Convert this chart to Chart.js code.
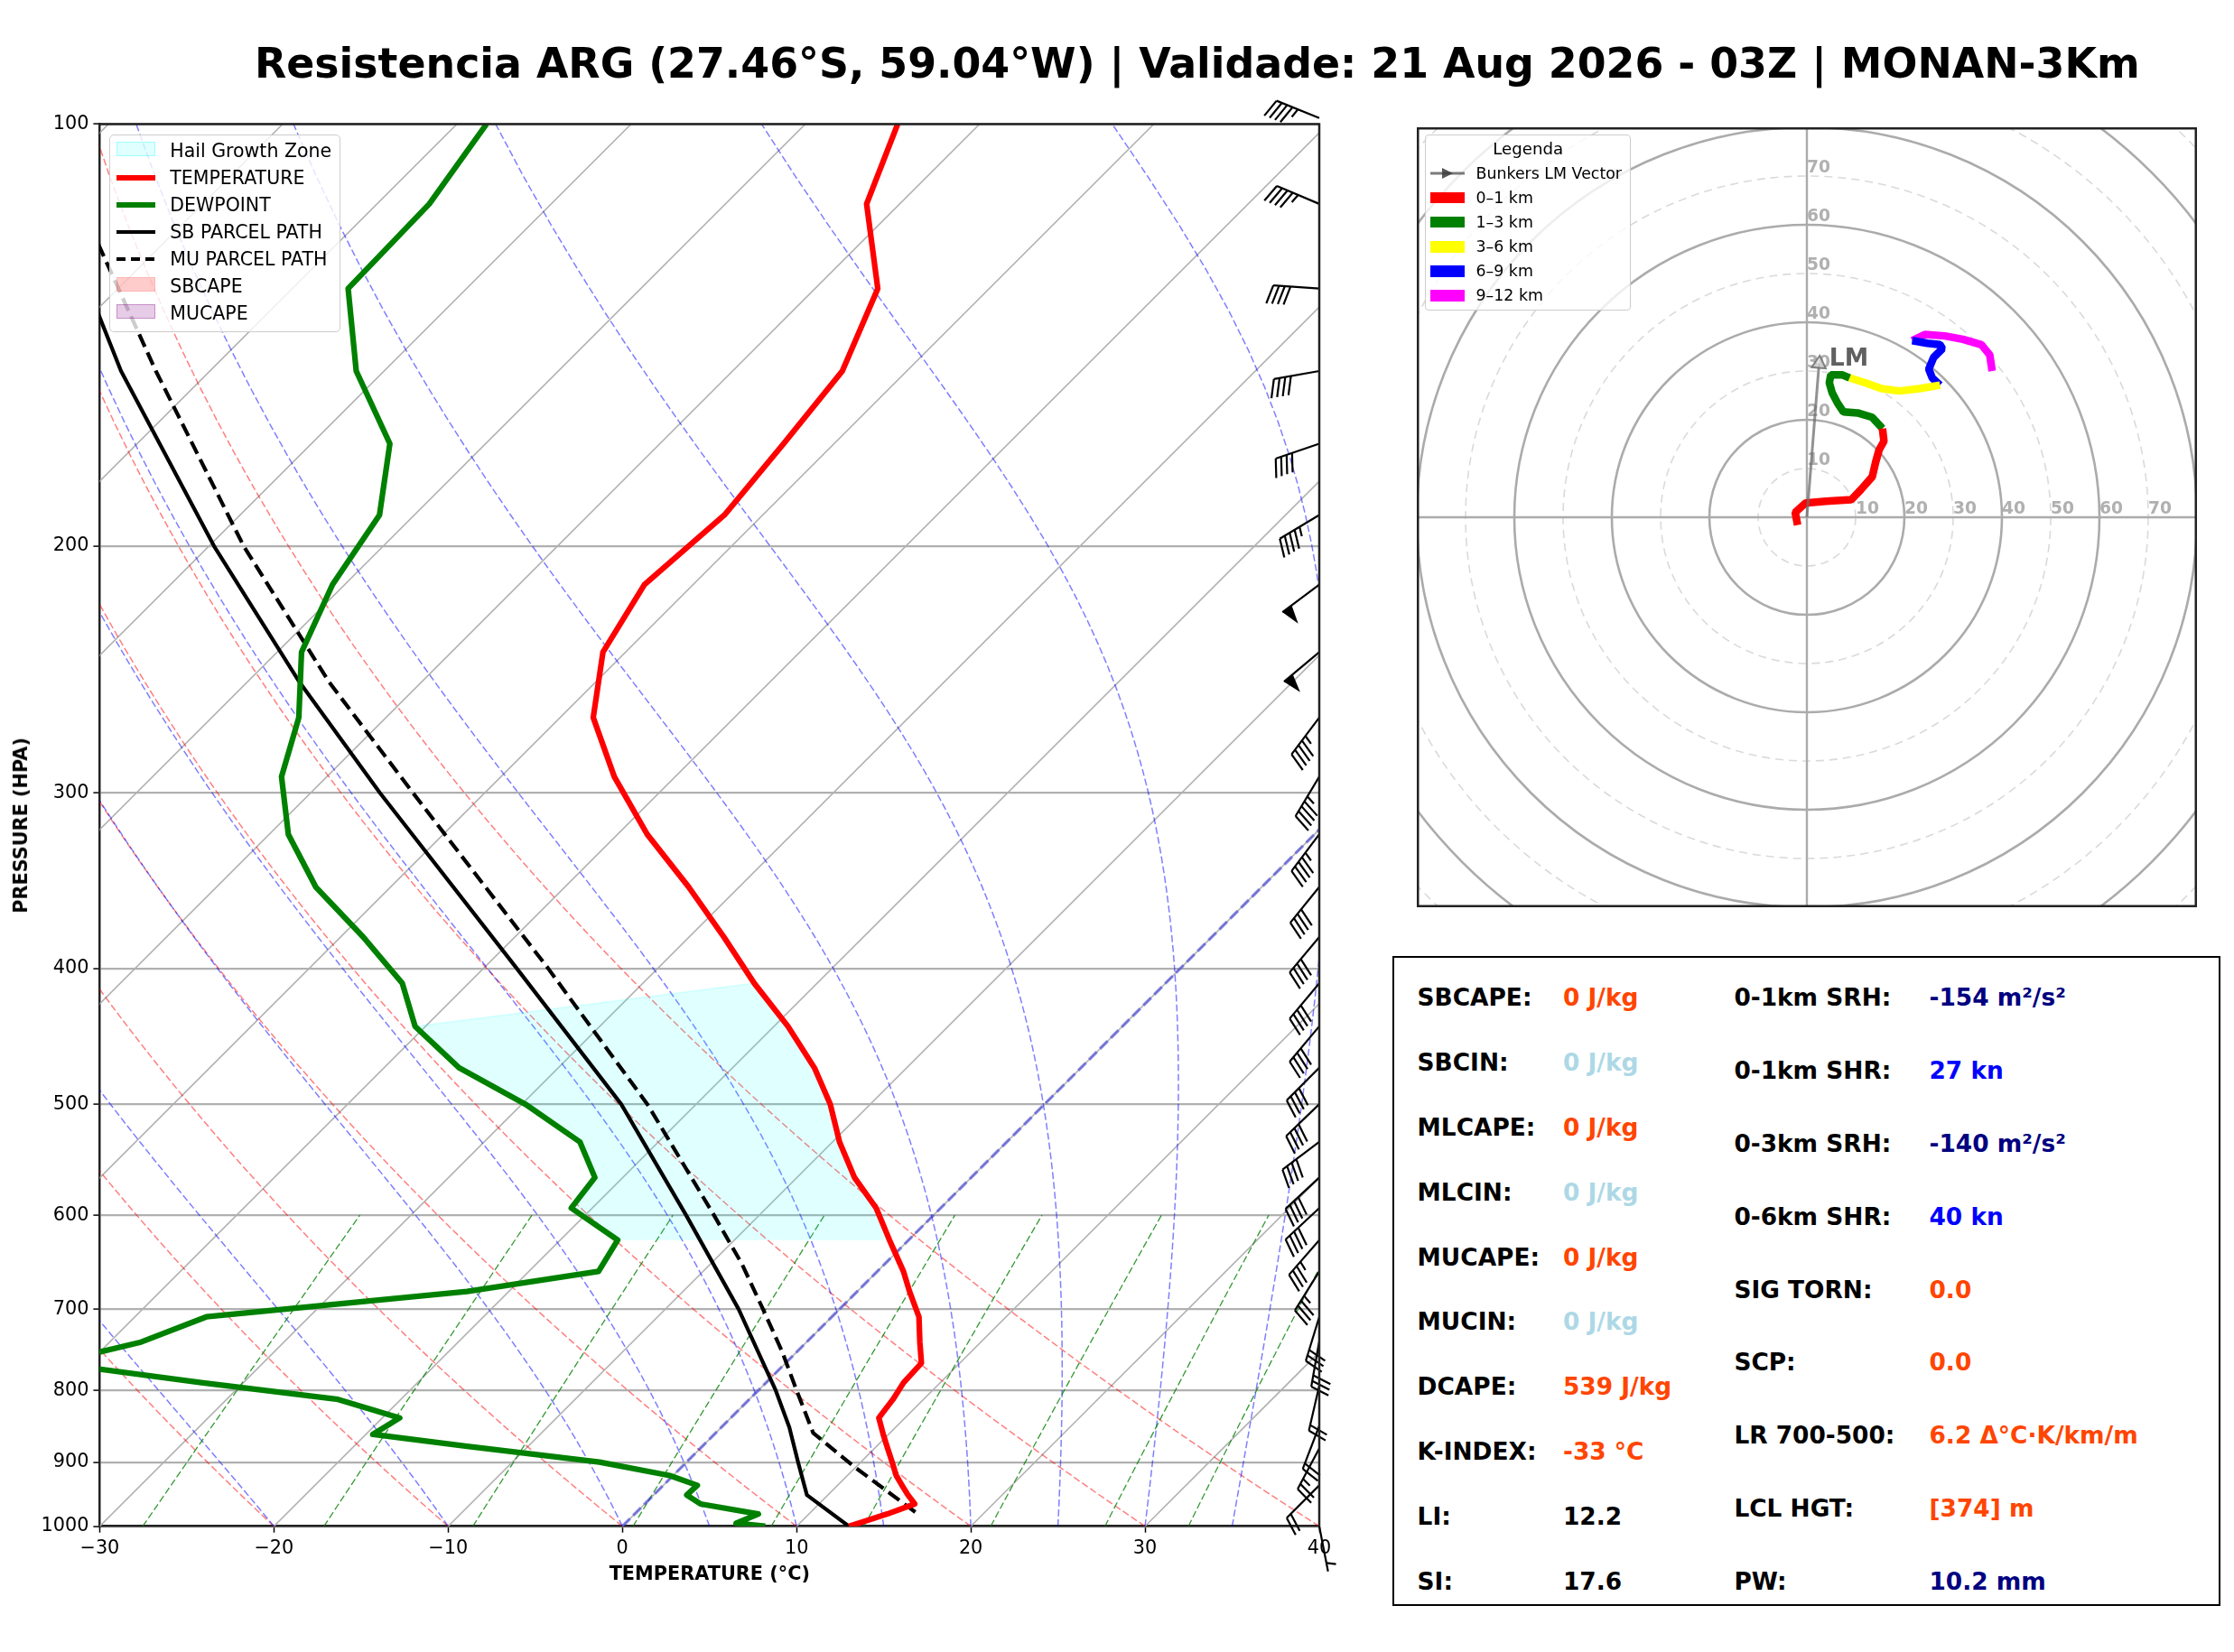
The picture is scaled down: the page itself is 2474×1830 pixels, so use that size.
<!DOCTYPE html>
<html lang="pt">
<head>
<meta charset="utf-8">
<title>Skew-T Resistencia</title>
<script src="https://cdn.jsdelivr.net/npm/chart.js@4.4.1/dist/chart.umd.min.js"></script>
<style>
  html, body { margin: 0; padding: 0; background: #fff; }
  body { position: relative; width: 2474px; height: 1830px; overflow: hidden; font-family: 'DejaVu Sans', sans-serif; color: #000; }
  canvas { position: absolute; }
  .abs { position: absolute; white-space: nowrap; line-height: 1; }
  .caixa { position: absolute; background: rgba(255,255,255,0.8); border: 1.5px solid #cccccc; border-radius: 5px; box-sizing: border-box; }
  .sw { position: absolute; box-sizing: border-box; }
</style>
</head>
<body>
<canvas id="skewt" width="1540" height="1830" style="left:0;top:0"></canvas>
<canvas id="hodo" width="864" height="864" style="left:1569px;top:141px"></canvas>
<div id="titulo" class="abs" style="font-weight:bold">Resistencia ARG (27.46°S, 59.04°W) | Validade: 21 Aug 2026 - 03Z | MONAN-3Km</div>
<div id="xTitulo" class="abs" style="font-weight:bold;font-size:20.8px">TEMPERATURE (°C)</div>
<div id="yTitulo" class="abs" style="font-weight:bold;font-size:20.8px">PRESSURE (HPA)</div>
<div class="caixa" style="left:120.7px;top:149.3px;width:256.6px;height:219px"></div>
<div class="caixa" style="left:1578.4px;top:149px;width:227.3px;height:194.8px;border-radius:4px"></div>
<div class="abs" style="left:1542px;top:1059px;width:917px;height:720px;border:2.5px solid #000;box-sizing:border-box"></div>
<script>
// Perfil vertical (hPa, °C)
const pres = [1000, 995, 980, 964, 950, 935, 920, 900, 877, 860, 837, 812, 790, 765, 739, 709, 680, 658, 625, 593,
              564, 532, 500, 471, 440, 410, 380, 350, 321, 292, 265, 238, 213, 190, 169, 150, 131, 114, 100];
const temp = [13.0, 13.4, 14.5, 15.5, 14.6, 13.7, 12.8, 11.8, 10.6, 9.7, 8.5, 8.25, 7.9, 7.8, 6.5, 5.0, 3.0, 1.5, -1.1, -3.7,
              -6.7, -9.6, -12.3, -15.3, -19.2, -23.6, -28.0, -32.9, -38.3, -43.5, -48.1, -51.3, -52.8, -52.2, -52.9, -53.7, -56.4, -61.9, -64.7];
const dewp = [8.2, 6.35, 7.1, 3.2, 1.9, 1.95, -0.2, -5.0, -13.5, -19.6, -19.0, -23.6, -32.4, -42.0, -38.2, -35.9, -22.4, -16.0, -16.7, -21.2,
              -21.6, -24.5, -29.8, -35.7, -40.6, -43.8, -48.7, -54.3, -58.9, -62.6, -65.0, -68.6, -70.7, -72.0, -75.5, -81.6, -86.8, -87.0, -88.3];

// Trayectorias de parcela
const sbPres = [1000, 950, 900, 850, 800, 700, 600, 500, 400, 300, 250, 200, 150, 120];
const sbTemp = [13.0, 8.8, 6.4, 3.9, 1.0, -5.8, -14.2, -24.3, -38.1, -56.0, -67.0, -79.7, -95.1, -106.0];
const muPres = [977, 907, 858, 800, 750, 700, 650, 600, 500, 400, 300, 250, 200, 150, 122, 110];
const muTemp = [16.0, 9.9, 5.6, 2.2, -0.9, -4.4, -8.2, -12.6, -22.8, -36.3, -54.1, -65.3, -78.0, -93.1, -103.6, -108.0];

// Zona de crecimiento de granizo (límites en hPa)
const hgzBottom = 625, hgzTopTemp = 410, hgzTopDew = 440;

// Barbas de viento (dirección de origen en grados, nudos)
const barbPres = [99, 114, 131, 150, 169, 190, 213, 238, 265, 292, 321, 350, 380, 410, 440, 471, 500, 532, 564, 593,
                  625, 658, 709, 738, 794, 848, 880, 935, 1000];
const barbDir = [292, 293, 274, 260, 251, 239, 233, 230, 217, 211, 217, 219, 220, 220, 220, 225, 226, 233, 227, 227,
                 221, 212, 197, 190, 193, 201, 208, 225, 169];
const barbSpd = [45, 45, 40, 40, 40, 45, 50, 50, 45, 45, 45, 40, 40, 40, 40, 40, 40, 40, 40, 40,
                 35, 35, 30, 30, 20, 20, 25, 20, 5];

// Hodógrafa (u, v en nudos) por capa
const hodo01U = [-1.9, -2.4, -0.3, 3.9, 9.1, 11.1, 13.4, 14.1, 14.8, 15.8, 15.5];
const hodo01V = [-1.6, 1.0, 2.9, 3.3, 3.6, 5.7, 8.3, 11.3, 13.8, 15.6, 18.2];
const hodo13U = [15.5, 13.4, 10.4, 7.5, 6.3, 5.2, 4.6, 4.9, 7.3, 8.75];
const hodo13V = [18.2, 20.5, 21.4, 21.6, 23.4, 25.5, 27.6, 29.2, 29.2, 28.6];
const hodo36U = [8.75, 12.2, 15.3, 19.0, 23.1, 27.3];
const hodo36V = [28.6, 27.5, 26.4, 25.9, 26.4, 27.1];
const hodo69U = [27.3, 25.7, 25.0, 26.0, 27.8, 27.3, 24.7, 21.6];
const hodo69V = [27.1, 28.6, 30.4, 32.8, 34.6, 35.4, 35.7, 36.25];
const hodo912U = [21.6, 24.2, 28.3, 32.0, 35.8, 37.5, 38.0];
const hodo912V = [36.25, 37.5, 37.2, 36.5, 35.4, 33.3, 30.0];
const lmU = 2.5, lmV = 31.5;

// Ejes
const xTicks = [-30, -20, -10, 0, 10, 20, 30, 40];
const yTicks = [100, 200, 300, 400, 500, 600, 700, 800, 900, 1000];
const hodoRings = [10, 20, 30, 40, 50, 60, 70, 80, 90, 100, 110];
const hodoLabels = [10, 20, 30, 40, 50, 60, 70];

Chart.defaults.font.family = "'DejaVu Sans', sans-serif";
Chart.defaults.color = '#000';

const SKEW = 80.5; // °C por década de presión (isotermas a 45°)
const skewX = (t, p) => t + SKEW * Math.log10(1000 / p);

// Constantes termodinámicas
const RD = 287.04749, CPD = 1004.666, LV = 2.50084e6, EPS = 0.6219569;

function moistPath(t0) {
    const f = (tk, p) => {
        const tc = tk - 273.15;
        const es = 6.112 * Math.exp(17.67 * tc / (tc + 243.5));
        const rs = EPS * es / (p - es);
        return (RD * tk + LV * rs) / (CPD + LV * LV * rs * EPS / (RD * tk * tk)) / p;
    };
    let t = t0 + 273.15, p = 1000;
    const h = -9, out = [[p, t0]];
    for (let k = 0; k < 100; k++) {
        const k1 = f(t, p), k2 = f(t + h * k1 / 2, p + h / 2), k3 = f(t + h * k2 / 2, p + h / 2), k4 = f(t + h * k3, p + h);
        t += h * (k1 + 2 * k2 + 2 * k3 + k4) / 6;
        p += h;
        out.push([p, t - 273.15]);
    }
    return out;
}

// Líneas de fondo: isotermas, adiabáticas y razón de mezcla
const fondoSkewT = {
    id: 'fondoSkewT',
    beforeDatasetsDraw(chart) {
        const { ctx, chartArea: a, scales: { x, y } } = chart;
        const linea = (pts) => {
            ctx.beginPath();
            pts.forEach(([p, t], i) => {
                const px = x.getPixelForValue(skewX(t, p)), py = y.getPixelForValue(p);
                if (i) ctx.lineTo(px, py); else ctx.moveTo(px, py);
            });
            ctx.stroke();
        };
        const niveles = [];
        for (let p = 1000; p >= 99.9; p -= 9) niveles.push(p);
        ctx.save();
        ctx.beginPath();
        ctx.rect(a.left, a.top, a.right - a.left, a.bottom - a.top);
        ctx.clip();

        ctx.strokeStyle = '#b0b0b0'; ctx.lineWidth = 1.6; ctx.setLineDash([]);
        for (let t = -120; t <= 40; t += 10) linea([[1000, t], [100, t]]);

        ctx.strokeStyle = 'rgba(255,0,0,0.5)'; ctx.lineWidth = 1.5; ctx.setLineDash([7.7, 3.3]);
        for (let th = -30; th <= 40; th += 10) {
            linea(niveles.map(p => [p, (th + 273.15) * Math.pow(p / 1000, 0.2857) - 273.15]));
        }

        ctx.strokeStyle = 'rgba(0,0,255,0.5)';
        [-30, -20, -10, 0, 5, 10, 15, 20, 25, 30, 35, 40].forEach(t0 => linea(moistPath(t0)));

        ctx.strokeStyle = 'rgba(0,128,0,0.8)'; ctx.lineWidth = 1.3;
        [0.0004, 0.001, 0.002, 0.004, 0.007, 0.01, 0.016, 0.024, 0.032].forEach(w => {
            const pts = [];
            for (let p = 1000; p >= 600; p -= 8) {
                const e = p * w / (EPS + w), l = Math.log(e / 6.112);
                pts.push([p, 243.5 * l / (17.67 - l)]);
            }
            linea(pts);
        });

        ctx.strokeStyle = 'rgba(40,40,220,0.5)'; ctx.lineWidth = 3.4; ctx.setLineDash([12, 5]);
        linea([[1000, 0], [100, 0]]);
        ctx.restore();
    }
};

// Barbas de viento en el borde derecho
const barbasViento = {
    id: 'barbasViento',
    afterDatasetsDraw(chart) {
        const { ctx, chartArea: a, scales: { y } } = chart;
        const L = 51, sp = 0.125 * L, H = 0.4 * L, W = 0.25 * L;
        ctx.save();
        ctx.strokeStyle = '#000'; ctx.fillStyle = '#000'; ctx.lineWidth = 2.2; ctx.setLineDash([]);
        barbPres.forEach((p, i) => {
            const th = barbDir[i] * Math.PI / 180;
            const dx = Math.sin(th), dy = -Math.cos(th);
            const nx = -Math.cos(th), ny = -Math.sin(th);
            const bx = a.right, by = y.getPixelForValue(p);
            const tx = bx + dx * L, ty = by + dy * L;
            const at = o => [tx - dx * o, ty - dy * o];
            ctx.beginPath(); ctx.moveTo(bx, by); ctx.lineTo(tx, ty); ctx.stroke();
            let v = Math.round(barbSpd[i] / 5) * 5;
            const flags = Math.floor(v / 50); v -= flags * 50;
            const full = Math.floor(v / 10); v -= full * 10;
            let off = 0;
            for (let k = 0; k < flags; k++) {
                const [x0, y0] = at(off), [xm, ym] = at(off + W / 2), [x2, y2] = at(off + W);
                ctx.beginPath(); ctx.moveTo(x0, y0); ctx.lineTo(xm + nx * H, ym + ny * H); ctx.lineTo(x2, y2);
                ctx.closePath(); ctx.fill();
                off += W + sp;
            }
            for (let k = 0; k < full; k++) {
                const [x0, y0] = at(off);
                ctx.beginPath(); ctx.moveTo(x0, y0); ctx.lineTo(x0 + nx * H + dx * W / 2, y0 + ny * H + dy * W / 2); ctx.stroke();
                off += sp;
            }
            if (v >= 5) {
                if (off === 0) off = 1.5 * sp;
                const [x0, y0] = at(off);
                ctx.beginPath(); ctx.moveTo(x0, y0); ctx.lineTo(x0 + nx * H / 2 + dx * W / 4, y0 + ny * H / 2 + dy * W / 4); ctx.stroke();
            }
        });
        ctx.restore();
    },
    afterDraw(chart) {
        const { ctx, chartArea: a } = chart;
        ctx.save();
        ctx.strokeStyle = '#222'; ctx.lineWidth = 2.5;
        ctx.beginPath(); ctx.moveTo(a.left, a.top); ctx.lineTo(a.right, a.top); ctx.lineTo(a.right, a.bottom); ctx.stroke();
        ctx.restore();
    }
};

const serie = (label, ps, ts, extra) => Object.assign({
    label,
    data: ps.map((p, i) => ({ x: skewX(ts[i], p), y: p })),
    showLine: true, pointRadius: 0, fill: false, clip: 0,
    borderJoinStyle: 'round', borderCapStyle: 'butt'
}, extra);

// Polígono de la zona de granizo construido a partir del perfil
const ladoT = pres.map((p, i) => [p, temp[i]]).filter(([p]) => p <= hgzBottom && p >= hgzTopTemp);
const ladoTd = pres.map((p, i) => [p, dewp[i]]).filter(([p]) => p <= hgzBottom && p >= hgzTopDew).reverse();
const hgzPoly = ladoT.concat(ladoTd);

new Chart(document.getElementById('skewt'), {
    type: 'scatter',
    data: {
        datasets: [
            serie('TEMPERATURE', pres, temp, { borderColor: '#ff0000', borderWidth: 6.25, order: 1 }),
            serie('DEWPOINT', pres, dewp, { borderColor: '#008000', borderWidth: 6.25, order: 2 }),
            serie('SB PARCEL PATH', sbPres, sbTemp, { borderColor: '#000', borderWidth: 4.2, order: 3 }),
            serie('MU PARCEL PATH', muPres, muTemp, { borderColor: '#000', borderWidth: 4.2, borderDash: [15, 7], order: 4 }),
            serie('Hail Growth Zone', hgzPoly.map(d => d[0]), hgzPoly.map(d => d[1]), {
                fill: 'shape', backgroundColor: 'rgba(0,255,255,0.12)', borderColor: 'rgba(0,255,255,0.15)',
                borderWidth: 1.5, order: 9
            })
        ]
    },
    options: {
        responsive: false,
        animation: false,
        events: [],
        layout: { autoPadding: false, padding: { left: 0, top: 137.5, right: 79, bottom: 59.3 } },
        plugins: { legend: { display: false }, tooltip: { enabled: false } },
        scales: {
            x: {
                type: 'linear', position: 'bottom', min: -30, max: 40,
                afterBuildTicks: s => { s.ticks = xTicks.map(v => ({ value: v })); },
                afterFit: s => { s.height = 80; },
                ticks: {
                    font: { size: 20.8 }, padding: 5, color: '#000',
                    callback: v => v < 0 ? '\u2212' + Math.abs(v) : String(v)
                },
                grid: { drawOnChartArea: false, drawTicks: true, tickLength: 7, tickColor: '#000', tickWidth: 1.5 },
                border: { display: true, color: '#222', width: 2.5 }
            },
            y: {
                type: 'logarithmic', position: 'left', reverse: true, min: 100, max: 1000,
                afterBuildTicks: s => { s.ticks = yTicks.map(v => ({ value: v })); },
                afterFit: s => { s.width = 110.4; },
                ticks: { font: { size: 20.8 }, padding: 5, color: '#000', autoSkip: false, callback: v => String(v) },
                grid: { color: '#b0b0b0', lineWidth: 2.2, drawTicks: true, tickLength: 7, tickColor: '#000', tickWidth: 1.5 },
                border: { display: true, color: '#222', width: 2.5 }
            }
        }
    },
    plugins: [fondoSkewT, barbasViento]
});

// Hodógrafa
const hodoFondo = {
    id: 'hodoFondo',
    beforeDatasetsDraw(chart) {
        const { ctx, chartArea: a, scales: { x, y } } = chart;
        const cx = x.getPixelForValue(0), cy = y.getPixelForValue(0);
        const k = x.getPixelForValue(1) - cx;
        ctx.save();
        ctx.beginPath(); ctx.rect(a.left, a.top, a.right - a.left, a.bottom - a.top); ctx.clip();
        hodoRings.forEach(r => {
            const solido = r % 20 === 0;
            ctx.setLineDash(solido ? [] : [9, 6]);
            ctx.strokeStyle = solido ? '#ababab' : '#dadada';
            ctx.lineWidth = solido ? 2.6 : 1.6;
            ctx.beginPath(); ctx.arc(cx, cy, r * k, 0, 2 * Math.PI); ctx.stroke();
        });
        ctx.setLineDash([]); ctx.strokeStyle = '#ababab'; ctx.lineWidth = 2.4;
        ctx.beginPath();
        ctx.moveTo(a.left, cy); ctx.lineTo(a.right, cy);
        ctx.moveTo(cx, a.top); ctx.lineTo(cx, a.bottom);
        ctx.stroke();
        ctx.fillStyle = '#b0b0b0'; ctx.font = "bold 18.7px 'DejaVu Sans'";
        ctx.textAlign = 'left'; ctx.textBaseline = 'bottom';
        hodoLabels.forEach(r => {
            ctx.fillText(String(r), cx + r * k, cy);
            ctx.fillText(String(r), cx, cy - r * k);
        });
        ctx.restore();
    },
    afterDatasetsDraw(chart) {
        const { ctx, scales: { x, y } } = chart;
        ctx.save();
        ctx.fillStyle = '#606060'; ctx.font = "bold 26.6px 'DejaVu Sans'";
        ctx.textAlign = 'left'; ctx.textBaseline = 'middle';
        ctx.fillText('LM', x.getPixelForValue(lmU + 2.1), y.getPixelForValue(lmV + 0.9));
        ctx.restore();
    },
    afterDraw(chart) {
        const { ctx, chartArea: a } = chart;
        ctx.save();
        ctx.strokeStyle = '#222'; ctx.lineWidth = 2.5;
        ctx.strokeRect(a.left + 1.25, a.top + 1.25, a.right - a.left - 2.5, a.bottom - a.top - 2.5);
        ctx.restore();
    }
};

const tramo = (label, u, v, color) => ({
    label, data: u.map((val, i) => ({ x: val, y: v[i] })),
    showLine: true, pointRadius: 0, borderColor: color, borderWidth: 8.5,
    borderCapStyle: 'butt', borderJoinStyle: 'bevel', clip: 0
});

new Chart(document.getElementById('hodo'), {
    type: 'scatter',
    data: {
        datasets: [
            tramo('0–1 km', hodo01U, hodo01V, '#ff0000'),
            tramo('1–3 km', hodo13U, hodo13V, '#008000'),
            tramo('3–6 km', hodo36U, hodo36V, '#ffff00'),
            tramo('6–9 km', hodo69U, hodo69V, '#0000ff'),
            tramo('9–12 km', hodo912U, hodo912V, '#ff00ff'),
            {
                label: 'Bunkers LM Vector', data: [{ x: 0, y: 0 }, { x: lmU, y: lmV }],
                showLine: true, borderColor: 'rgba(110,110,110,0.75)', borderWidth: 3,
                pointRadius: [0, 9], pointStyle: 'triangle', rotation: Math.atan2(lmU, lmV) * 180 / Math.PI,
                pointBackgroundColor: 'rgba(215,215,215,0.7)', pointBorderColor: 'rgba(110,110,110,0.85)', pointBorderWidth: 2,
                clip: 0, order: -1
            }
        ]
    },
    options: {
        responsive: false,
        animation: false,
        events: [],
        layout: { autoPadding: false, padding: 0 },
        plugins: { legend: { display: false }, tooltip: { enabled: false } },
        scales: {
            x: { type: 'linear', min: -80, max: 80, display: false },
            y: { type: 'linear', min: -80, max: 80, display: false }
        }
    },
    plugins: [hodoFondo]
});

// Textos en HTML
function texto(str, x, yc, size, extra) {
    const el = document.createElement('div');
    el.className = 'abs';
    el.textContent = str;
    el.style.fontSize = size + 'px';
    el.style.left = x + 'px';
    el.style.top = (yc - 0.48 * size) + 'px';
    Object.assign(el.style, extra || {});
    document.body.appendChild(el);
    return el;
}
function muestra(x, yc, w, h, estilo) {
    const el = document.createElement('div');
    el.className = 'sw';
    Object.assign(el.style, { left: x + 'px', top: (yc - h / 2) + 'px', width: w + 'px', height: h + 'px' }, estilo);
    document.body.appendChild(el);
}

// Título ajustado al ancho del original
(function () {
    const t = document.getElementById('titulo');
    const c = document.createElement('canvas').getContext('2d');
    c.font = "bold 100px 'DejaVu Sans'";
    const size = 100 * 2088 / c.measureText(t.textContent).width;
    t.style.fontSize = size + 'px';
    t.style.left = '282px';
    t.style.top = (69.5 - 0.48 * size) + 'px';
})();

(function () {
    const xt = document.getElementById('xTitulo');
    xt.style.left = (785.7 - xt.offsetWidth / 2) + 'px';
    xt.style.top = (1742.7 - 0.48 * 20.8) + 'px';
    const yt = document.getElementById('yTitulo');
    yt.style.left = (23 - yt.offsetWidth / 2) + 'px';
    yt.style.top = (914 - yt.offsetHeight / 2) + 'px';
    yt.style.transform = 'rotate(-90deg)';
})();

// Leyenda del Skew-T
const legY = [166.7, 196.7, 226.7, 256.7, 286.7, 316.7, 346.7];
const legTxt = ['Hail Growth Zone', 'TEMPERATURE', 'DEWPOINT', 'SB PARCEL PATH', 'MU PARCEL PATH', 'SBCAPE', 'MUCAPE'];
muestra(129.3, legY[0] - 1.4, 42.4, 16, { background: 'rgba(0,255,255,0.12)', border: '1.5px solid rgba(0,255,255,0.3)' });
muestra(129.3, legY[1], 42.4, 6.25, { background: '#ff0000' });
muestra(129.3, legY[2], 42.4, 6.25, { background: '#008000' });
muestra(129.3, legY[3], 42.4, 4.2, { background: '#000' });
muestra(129.3, legY[4], 42.4, 4.2, { background: 'repeating-linear-gradient(90deg,#000 0 10px,transparent 10px 16px)' });
muestra(129.3, legY[5] - 1.4, 42.4, 16, { background: 'rgba(255,0,0,0.2)', border: '1.5px solid rgba(255,0,0,0.1)' });
muestra(129.3, legY[6] - 1.4, 42.4, 16, { background: 'rgba(128,0,128,0.2)', border: '1.5px solid rgba(128,0,128,0.3)' });
legTxt.forEach((s, i) => texto(s, 188.3, legY[i], 20.5));

// Leyenda de la hodógrafa
const hlY = [192.2, 219.2, 246.1, 273.6, 300.5, 327.5];
const hlTxt = ['Bunkers LM Vector', '0–1 km', '1–3 km', '3–6 km', '6–9 km', '9–12 km'];
const hlCol = [null, '#ff0000', '#008000', '#ffff00', '#0000ff', '#ff00ff'];
(function () {
    const t = texto('Legenda', 0, 164.7, 18.2);
    t.style.left = (1692.3 - t.offsetWidth / 2) + 'px';
    const s = document.createElementNS('http://www.w3.org/2000/svg', 'svg');
    s.setAttribute('width', '38'); s.setAttribute('height', '16');
    s.style.position = 'absolute'; s.style.left = '1584px'; s.style.top = (hlY[0] - 8) + 'px';
    s.innerHTML = '<line x1="0" y1="8" x2="38" y2="8" stroke="rgba(90,90,90,0.8)" stroke-width="3"/>' +
                  '<polygon points="13,2 25,8 13,14" fill="rgba(60,60,60,0.85)"/>';
    document.body.appendChild(s);
})();
hlTxt.forEach((s, i) => {
    if (hlCol[i]) muestra(1584, hlY[i], 37.6, 12.3, { background: hlCol[i] });
    texto(s, 1634.5, hlY[i], 17.4);
});

// Tabla de índices
const tabIzq = [
    ['SBCAPE:', '0 J/kg', '#ff4500'], ['SBCIN:', '0 J/kg', '#add8e6'], ['MLCAPE:', '0 J/kg', '#ff4500'],
    ['MLCIN:', '0 J/kg', '#add8e6'], ['MUCAPE:', '0 J/kg', '#ff4500'], ['MUCIN:', '0 J/kg', '#add8e6'],
    ['DCAPE:', '539 J/kg', '#ff4500'], ['K-INDEX:', '-33 °C', '#ff4500'], ['LI:', '12.2', '#000'], ['SI:', '17.6', '#000']
];
const tabDer = [
    ['0-1km SRH:', '-154 m²/s²', '#000080'], ['0-1km SHR:', '27 kn', '#0000ff'], ['0-3km SRH:', '-140 m²/s²', '#000080'],
    ['0-6km SHR:', '40 kn', '#0000ff'], ['SIG TORN:', '0.0', '#ff4500'], ['SCP:', '0.0', '#ff4500'],
    ['LR 700-500:', '6.2 Δ°C·K/km/m', '#ff4500'], ['LCL HGT:', '[374] m', '#ff4500'], ['PW:', '10.2 mm', '#000080']
];
tabIzq.forEach(([lab, val, col], i) => {
    const y = 1104.6 + i * 71.9;
    texto(lab, 1569.6, y, 26.4, { fontWeight: 'bold' });
    texto(val, 1731, y, 26.4, { fontWeight: 'bold', color: col });
});
tabDer.forEach(([lab, val, col], i) => {
    const y = 1104.6 + i * 80.9;
    texto(lab, 1920.4, y, 26.4, { fontWeight: 'bold' });
    texto(val, 2136.5, y, 26.4, { fontWeight: 'bold', color: col });
});
</script>
</body>
</html>
